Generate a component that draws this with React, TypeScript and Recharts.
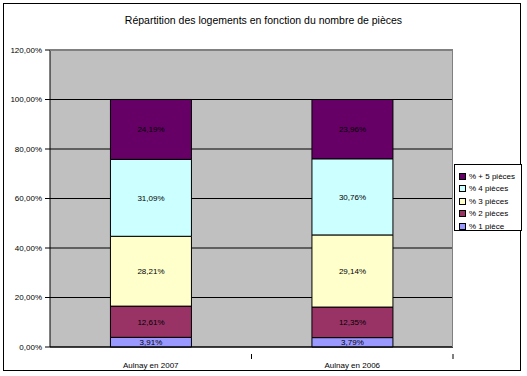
import React from "react";
import { BarChart, Bar, XAxis, YAxis, CartesianGrid, LabelList } from "recharts";

const categories = ["Aulnay en 2007", "Aulnay en 2006"];
const p1 = [3.91, 3.79];
const p2 = [12.61, 12.35];
const p3 = [28.21, 29.14];
const p4 = [31.09, 30.76];
const p5 = [24.19, 23.96];
const yTicks = [0, 20, 40, 60, 80, 100, 120];

const series = [
  { key: "p1", name: "% 1 pièce", values: p1, color: "#9999FF" },
  { key: "p2", name: "% 2 pièces", values: p2, color: "#993366" },
  { key: "p3", name: "% 3 pièces", values: p3, color: "#FFFFCC" },
  { key: "p4", name: "% 4 pièces", values: p4, color: "#CCFFFF" },
  { key: "p5", name: "% + 5 pièces", values: p5, color: "#660066" },
];

const data = categories.map((c, i) => {
  const row: any = { cat: c };
  series.forEach((s) => (row[s.key] = s.values[i]));
  return row;
});

const fmt = (v: number) => v.toFixed(2).replace(".", ",") + "%";
const FONT = "'Liberation Sans', Arial, sans-serif";

const XTick = (props: any) => {
  const { x, y, payload } = props;
  const off = payload && payload.offset ? payload.offset : 100;
  return (
    <g>
      <line x1={x + off} x2={x + off} y1={y - 1} y2={y + 4} stroke="#000" />
      <text x={x} y={y + 13} textAnchor="middle" fontSize={8} fontFamily={FONT} fill="#000">
        {payload.value}
      </text>
    </g>
  );
};

export default function App() {
  return (
    <div style={{ position: "absolute", left: 0, top: 0, width: 527, height: 376, background: "#fff" }}>
      <div
        style={{
          position: "absolute",
          left: 3,
          top: 3,
          width: 518,
          height: 368,
          border: "1px solid #000",
          boxSizing: "border-box",
        }}
      />
      <div
        style={{
          position: "absolute",
          left: 0,
          top: 14,
          width: 527,
          textAlign: "center",
          fontFamily: FONT,
          fontSize: 10.5,
          color: "#000",
        }}
      >
        Répartition des logements en fonction du nombre de pièces
      </div>
      <div style={{ position: "absolute", left: 0, top: 0 }}>
        <BarChart
          width={527}
          height={376}
          data={data}
          margin={{ top: 50, right: 74, bottom: 9, left: 5 }}
          barCategoryGap="30%"
        >
          <CartesianGrid vertical={false} stroke="#000" fill="#C0C0C0" fillOpacity={1} />
          <XAxis
            dataKey="cat"
            height={20}
            tickLine={false}
            axisLine={{ stroke: "#000" }}
            tick={<XTick />}
            interval={0}
          />
          <YAxis
            width={45}
            domain={[0, 120]}
            ticks={yTicks}
            interval={0}
            tickFormatter={fmt}
            tickSize={5}
            tickMargin={3}
            axisLine={{ stroke: "#000" }}
            tickLine={{ stroke: "#000" }}
            tick={{ fontSize: 8, fontFamily: FONT, fill: "#000" }}
          />
          {series.map((s) => (
            <Bar
              key={s.key}
              dataKey={s.key}
              name={s.name}
              stackId="a"
              fill={s.color}
              stroke="#000"
              strokeWidth={1}
              isAnimationActive={false}
            >
              <LabelList
                dataKey={s.key}
                position="center"
                formatter={(v: any) => fmt(Number(v))}
                style={{ fontSize: 8, fontFamily: FONT, fill: "#000" }}
              />
            </Bar>
          ))}
        </BarChart>
      </div>
      <div
        style={{
          position: "absolute",
          left: 50,
          top: 50,
          width: 403,
          height: 297,
          borderTop: "1px solid #808080",
          borderRight: "1px solid #808080",
          boxSizing: "border-box",
          pointerEvents: "none",
        }}
      />
      <div
        style={{
          position: "absolute",
          left: 454,
          top: 164,
          width: 68,
          height: 67,
          border: "1px solid #000",
          boxSizing: "border-box",
          background: "#fff",
          fontFamily: FONT,
          fontSize: 8,
          padding: "5px 0 0 4px",
        }}
      >
        {[...series].reverse().map((s) => (
          <div key={s.key} style={{ display: "flex", alignItems: "center", height: 12.5 }}>
            <span
              style={{
                display: "inline-block",
                width: 5,
                height: 5,
                background: s.color,
                border: "1px solid #000",
                marginRight: 3,
              }}
            />
            <span>{s.name}</span>
          </div>
        ))}
      </div>
    </div>
  );
}
